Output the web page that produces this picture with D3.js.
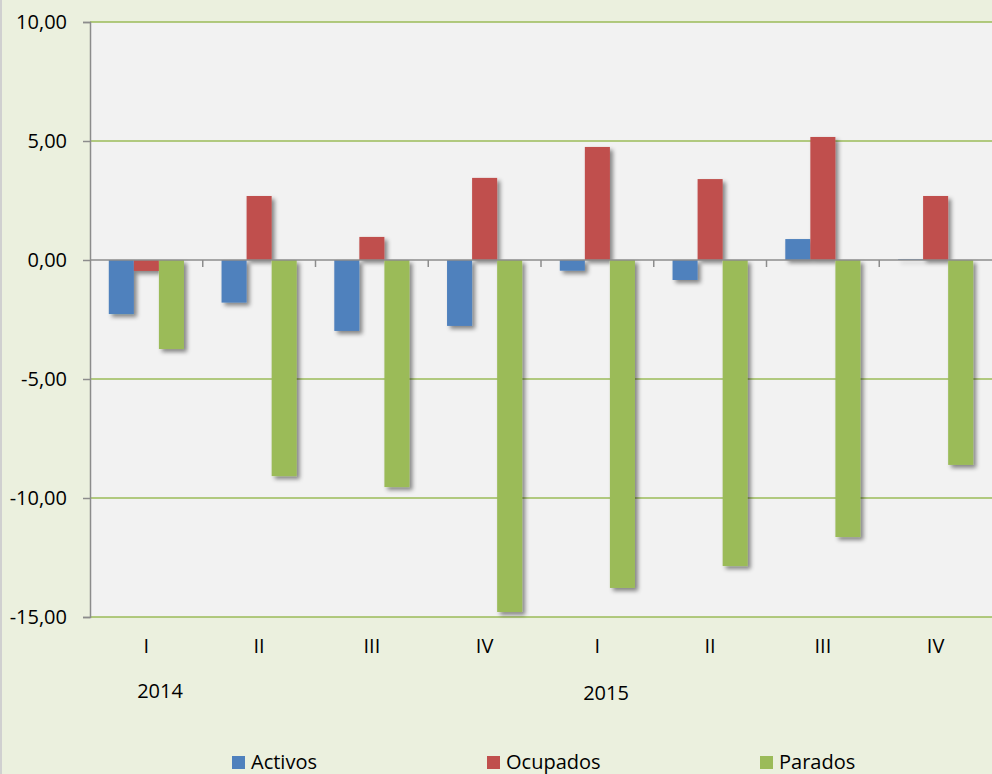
<!DOCTYPE html>
<html lang="es">
<head>
<meta charset="UTF-8">
<title>Activos, Ocupados, Parados</title>
<script src="https://d3js.org/d3.v7.min.js"></script>
<style>
  body { margin: 0; background: #ebf0de; }
  svg { display: block; font-family: "Open Sans", "Noto Sans", sans-serif; }
</style>
</head>
<body>
<svg id="chart" width="992" height="774"></svg>
<script>
// quarters (2014 I..IV, 2015 I..IV)
const quarters = ["I", "II", "III", "IV", "I", "II", "III", "IV"];
const years = ["2014", "2015"];
const seriesNames = ["Activos", "Ocupados", "Parados"];
const activos  = [-2.27, -1.79, -2.98, -2.77, -0.45, -0.84, 0.88, 0.03];
const ocupados = [-0.46, 2.69, 0.97, 3.45, 4.75, 3.40, 5.17, 2.69];
const parados  = [-3.74, -9.08, -9.54, -14.79, -13.78, -12.86, -11.64, -8.61];
const yTicks = [-15, -10, -5, 0, 5, 10];
const colors = ["#4f81bd", "#c0504d", "#9bbb59"];

const width = 992, height = 774;
const margin = { left: 90, right: 0, top: 22, bottom: 157 };

const svg = d3.select("#chart");

// drop shadow for bars
const defs = svg.append("defs");
const f = defs.append("filter").attr("id", "shadow")
  .attr("x", "-20%").attr("y", "-20%").attr("width", "160%").attr("height", "160%");
f.append("feDropShadow").attr("dx", 3).attr("dy", 3).attr("stdDeviation", 2)
  .attr("flood-color", "#000").attr("flood-opacity", 0.45);

// outer background with left border
svg.append("rect").attr("width", width).attr("height", height).attr("fill", "#ebf0de");
svg.append("line").attr("x1", 1).attr("x2", 1).attr("y1", 0).attr("y2", height)
  .attr("stroke", "#d0d0d0").attr("stroke-width", 2);

const x0 = d3.scaleBand().domain(d3.range(quarters.length))
  .range([margin.left, width - margin.right]).padding(0);
const x1 = d3.scaleBand().domain(seriesNames)
  .range([0, x0.bandwidth()]).paddingInner(0).paddingOuter(0.75);
const y = d3.scaleLinear().domain([-15, 10]).range([height - margin.bottom, margin.top]);

// plot area
svg.append("rect")
  .attr("x", margin.left).attr("y", y(10))
  .attr("width", width - margin.right - margin.left).attr("height", y(-15) - y(10))
  .attr("fill", "#f2f2f2");

// gridlines
svg.append("g").selectAll("line")
  .data(yTicks.filter(d => d !== 0))
  .join("line")
  .attr("x1", margin.left).attr("x2", width - margin.right)
  .attr("y1", d => y(d)).attr("y2", d => y(d))
  .attr("stroke", "#9bbb59").attr("stroke-width", 1.5);

// y axis (hyphen minus, comma decimals)
const yAxis = svg.append("g")
  .attr("transform", `translate(${margin.left},0)`)
  .call(d3.axisLeft(y).tickValues(yTicks).tickSize(7).tickPadding(16)
    .tickFormat(d => d.toFixed(2).replace(".", ",")));
yAxis.select(".domain").attr("stroke", "#8c8c8c").attr("stroke-width", 1.5);
yAxis.selectAll(".tick line").attr("stroke", "#8c8c8c").attr("stroke-width", 1.5);
yAxis.selectAll(".tick text").attr("font-size", 20).attr("fill", "#000")
  .attr("font-family", "'Open Sans', sans-serif");

// bars
const data = [activos, ocupados, parados];
const barsG = svg.append("g").attr("filter", "url(#shadow)");
seriesNames.forEach((name, s) => {
  barsG.append("g").selectAll("rect")
    .data(data[s])
    .join("rect")
    .attr("x", (d, i) => x0(i) + x1(name))
    .attr("y", d => y(Math.max(0, d)))
    .attr("width", x1.bandwidth())
    .attr("height", d => Math.abs(y(d) - y(0)))
    .attr("fill", colors[s]);
});

// zero axis with category tick marks
svg.append("line")
  .attr("x1", margin.left).attr("x2", width - margin.right)
  .attr("y1", y(0)).attr("y2", y(0))
  .attr("stroke", "#8c8c8c").attr("stroke-width", 1.5);
svg.append("g").selectAll("line")
  .data(d3.range(1, quarters.length))
  .join("line")
  .attr("x1", i => x0(i)).attr("x2", i => x0(i))
  .attr("y1", y(0)).attr("y2", y(0) + 7)
  .attr("stroke", "#8c8c8c").attr("stroke-width", 1.5);

// quarter labels
svg.append("g").selectAll("text")
  .data(quarters)
  .join("text")
  .attr("x", (d, i) => x0(i) + x0.bandwidth() / 2)
  .attr("y", 653)
  .attr("text-anchor", "middle")
  .attr("font-size", 20)
  .text(d => d);

// year labels
const yearX = [160, 606];
svg.append("g").selectAll("text")
  .data(years)
  .join("text")
  .attr("x", (d, i) => yearX[i])
  .attr("y", (d, i) => [698, 700][i])
  .attr("text-anchor", "middle")
  .attr("font-size", 20)
  .text(d => d);

// legend
const legendX = [232, 487, 760];
const legend = svg.append("g").selectAll("g")
  .data(seriesNames)
  .join("g")
  .attr("transform", (d, i) => `translate(${legendX[i]},${756})`);
legend.append("rect").attr("width", 13).attr("height", 13)
  .attr("fill", (d, i) => colors[i]);
legend.append("text").attr("x", 19).attr("y", 13)
  .attr("font-size", 20).text(d => d);
</script>
</body>
</html>
